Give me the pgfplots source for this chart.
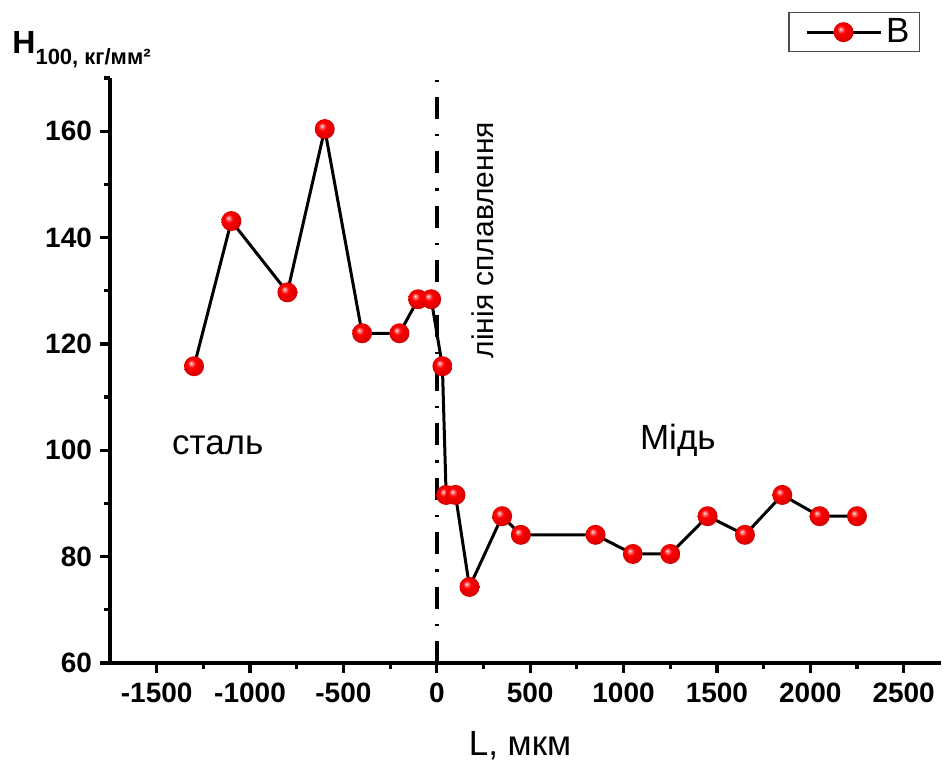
\documentclass[border=0pt]{standalone}
\usepackage{pgfplots}
\pgfplotsset{compat=1.18}
\usepackage{fontspec}
\setmainfont{Liberation Sans}
\pgfdeclareradialshading{redball}{\pgfpoint{-8bp}{8bp}}{%
  color(0bp)=(white); color(2.5bp)=(white!60!red); color(10bp)=(red); color(26bp)=(red!85!black);
  color(34bp)=(red!65!black); color(50bp)=(red!65!black)}
\pgfdeclareplotmark{redball}{\pgfpathcircle{\pgfpointorigin}{\pgfplotmarksize}\pgfshadepath{redball}{0}\pgfusepath{}}
\begin{document}
\begin{tikzpicture}
\useasboundingbox (0,0) rectangle (472pt,380pt);
\begin{axis}[
  at={(55pt,48.5pt)}, anchor=south west,
  scale only axis, width=415.5pt, height=292.5pt,
  xmin=-1750, xmax=2700, ymin=60, ymax=170,
  axis x line*=bottom, axis y line*=left,
  axis line style={line width=1.6pt, -},
  xtick={-1500,-1000,...,2500},
  minor xtick={-1250,-750,...,2250},
  ytick={60,80,...,160},
  minor ytick={70,90,...,170},
  tick align=outside,
  major tick length=5pt, minor tick length=3pt,
  every tick/.style={black, line width=1.6pt},
  /pgf/number format/.cd, 1000 sep={}, assume math mode=true, /pgfplots/.cd,
  ticklabel style={font=\bfseries\fontsize{14}{16}\selectfont},
  xticklabel style={yshift=-1.5pt},
  yticklabel style={xshift=-0.5pt},
  xlabel={L, мкм},
  every axis x label/.style={at={(rel axis cs:0.4934,-0.1573)}, anchor=base, inner sep=0pt, font=\fontsize{17.5}{20}\selectfont},
  ylabel={\bfseries\fontsize{16}{18}\selectfont H\raisebox{-5.5pt}{\fontsize{11}{13}\selectfont 100, кг/мм²}},
  every axis y label/.style={at={(rel axis cs:-0.1179,1.0427)}, anchor=base west, inner sep=0pt},
  legend style={at={(rel axis cs:0.9747,1.1128)}, anchor=north east, draw=black!70, line width=0.6pt,
    font=\fontsize{17.5}{20}\selectfont, inner xsep=3pt, inner ysep=1pt, row sep=0pt,
    nodes={inner sep=2pt}},
  legend image code/.code={\path (-5pt,0pt); \draw[mark repeat=2,mark phase=2,#1] plot coordinates {(0pt,0pt) (18.5pt,0pt) (37pt,0pt)};},
  clip=false,
]
\addplot[line width=2pt, dash pattern=on 11pt off 7.5pt on 1.2pt off 7.5pt, forget plot] coordinates {(0,60) (0,170)};
\addplot[black, line width=1.5pt, mark=redball, mark size=5pt] coordinates {
(-1300,115.8) (-1100,143.1) (-800,129.7) (-600,160.4) (-400,122) (-200,122) (-100,128.4) (-30,128.4)
(30,115.8) (50,91.6) (100,91.6) (175,74.3) (350,87.6) (450,84.1) (850,84.1) (1050,80.5) (1250,80.5)
(1450,87.6) (1650,84.1) (1850,91.6) (2050,87.6) (2250,87.6)};
\addlegendentry{B}
\node[font=\fontsize{17.5}{20}\selectfont] at (axis cs:-1173,101) {сталь};
\node[font=\fontsize{17.5}{20}\selectfont] at (axis cs:1291,101.9) {Мідь};
\node[font=\fontsize{15}{17}\selectfont, rotate=90] at (axis cs:246,139.5) {лінія сплавлення};
\end{axis}
\end{tikzpicture}
\end{document}
